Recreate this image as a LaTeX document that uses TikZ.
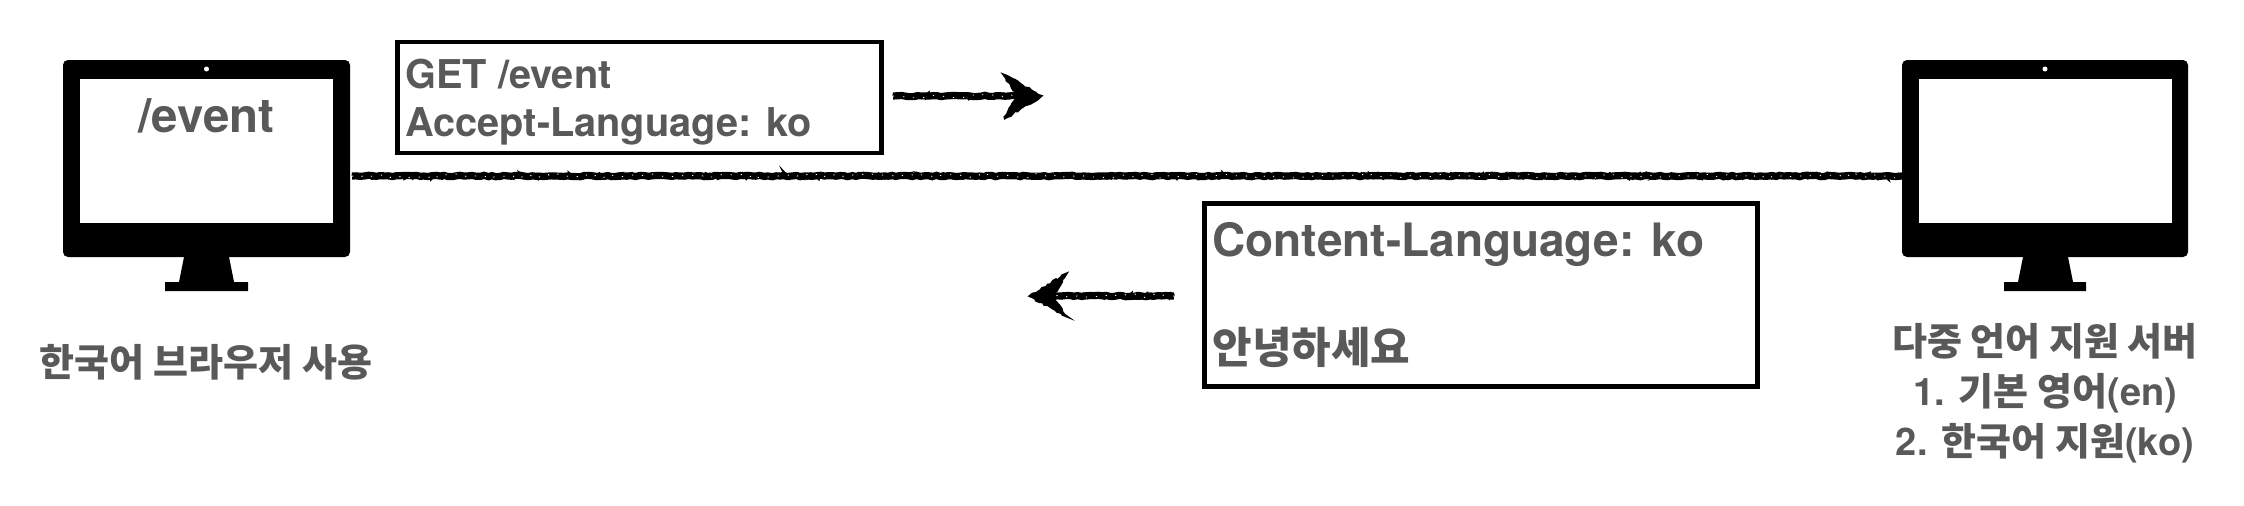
\documentclass[tikz,border=0pt]{standalone}
\usepackage{fontspec}
\setmainfont{TeX Gyre Heros}
\newfontfamily\kofont{Noto Sans CJK KR}
\usetikzlibrary{decorations.pathmorphing}
\definecolor{labelgray}{HTML}{595959}
\newcommand{\ko}[1]{{\kofont\bfseries #1}}
\newcommand{\fs}[1]{\fontsize{#1}{#1}\selectfont}
\tikzset{
  x=1pt,y=-1pt,
  labeltext/.style={text=labelgray,font=\bfseries,inner sep=0pt,outer sep=0pt},
  msgbox/.style={draw=black,line width=4.5pt,fill=white,inner ysep=0pt,inner xsep=8pt,outer sep=0pt,align=flush left,text=labelgray},
  monbody/.style={fill=black,rounded corners=5pt,inner sep=0pt,outer sep=0pt},
  monscreen/.style={fill=white,inner sep=0pt,outer sep=0pt},
  roughA/.style={draw=black,line width=7.2pt,decorate,decoration={random steps,segment length=4pt,amplitude=0.7pt}},
  roughB/.style={draw=black,line width=3pt,decorate,decoration={random steps,segment length=3pt,amplitude=2.4pt}},
  speck/.style={draw=white,line width=0.8pt,dash pattern=on 1.2pt off 9pt,decorate,decoration={random steps,segment length=5pt,amplitude=2.2pt}},
  roughhead/.style={draw=black,fill=black,line width=2.5pt,decorate,decoration={random steps,segment length=3pt,amplitude=1.1pt}},
}
\pgfmathsetseed{7}
\begin{document}
\begin{tikzpicture}
\useasboundingbox (0,0) rectangle (2244,506);
\fill[white] (0,0) rectangle (2244,506);

% left monitor
\node[monbody,minimum width=287pt,minimum height=197pt] (lmon) at (206.5,158.5) {};
\node[monscreen,minimum width=253pt,minimum height=144pt] (lscr) at (206.5,151) {};
\node[fill=white,circle,inner sep=0pt,minimum size=5pt] (lcam) at (206.5,69) {};
\fill[black] (184,257) -- (229,257) -- (234,282) -- (248,282) -- (248,291) -- (165,291) -- (165,282) -- (179,282) -- cycle;

% right monitor
\node[monbody,minimum width=286pt,minimum height=197pt] (rmon) at (2045,158.5) {};
\node[monscreen,minimum width=253pt,minimum height=144pt] (rscr) at (2045,151) {};
\node[fill=white,circle,inner sep=0pt,minimum size=5pt] (rcam) at (2045,69) {};
\fill[black] (2023,257) -- (2068,257) -- (2073,282) -- (2086,282) -- (2086,291) -- (2004,291) -- (2004,282) -- (2018,282) -- cycle;

% screen text
\node[labeltext,anchor=base] (url) at (206.5,132) {\fs{47.5}/event};

% message boxes
\node[msgbox,text width=468pt,minimum height=111pt,font=\bfseries\fontsize{39.7}{48}\selectfont] (req) at (639.5,97.5)
  {\rule{0pt}{39pt}GET /event\\Accept-Language: ko};
\node[msgbox,text width=537pt,minimum height=183pt,font=\bfseries\fontsize{46}{107}\selectfont] (res) at (1481,295)
  {Content-Language: ko\\{\fontsize{43}{107}\selectfont\ko{안녕하세요}}};

% labels
\node[labeltext,anchor=base] (lab1) at (206,376) {\fs{38}\ko{한국어 브라우저 사용}};
\node[labeltext,anchor=base] (lab2a) at (2045,355) {\fs{38}\ko{다중 언어 지원 서버}};
\node[labeltext,anchor=base] (lab2b) at (2045,405) {\fs{38}1. \ko{기본 영어}(en)};
\node[labeltext,anchor=base] (lab2c) at (2045,455) {\fs{38}2. \ko{한국어 지원}(ko)};

% connector between monitors
\coordinate (wireL) at ([xshift=2pt,yshift=-17.5pt]lmon.east);
\coordinate (wireR) at ([yshift=-17.5pt]rmon.west);
\draw[roughA] (wireL) -- (wireR);
\draw[roughB] (wireL) -- (wireR);
\draw[speck] (wireL) -- (wireR);

% request arrow
\coordinate (reqT) at (893,96);
\coordinate (reqH) at (1041,96);
\coordinate (reqU) at (1004,75);
\coordinate (reqD) at (1005,118);
\coordinate (reqN) at (1018,96);
\draw[roughA] (reqT) -- (reqN);
\draw[roughB] (reqT) -- (reqN);
\draw[speck] (reqT) -- (reqN);
\draw[roughhead] (reqH) -- (reqU) -- (reqN) -- (reqD) -- cycle;

% response arrow
\coordinate (resT) at (1174,296);
\coordinate (resH) at (1030,296);
\coordinate (resU) at (1066,274);
\coordinate (resD) at (1066,316);
\coordinate (resN) at (1053,296);
\draw[roughA] (resT) -- (resN);
\draw[roughB] (resT) -- (resN);
\draw[speck] (resT) -- (resN);
\draw[roughhead] (resH) -- (resU) -- (resN) -- (resD) -- cycle;
\end{tikzpicture}
\end{document}
